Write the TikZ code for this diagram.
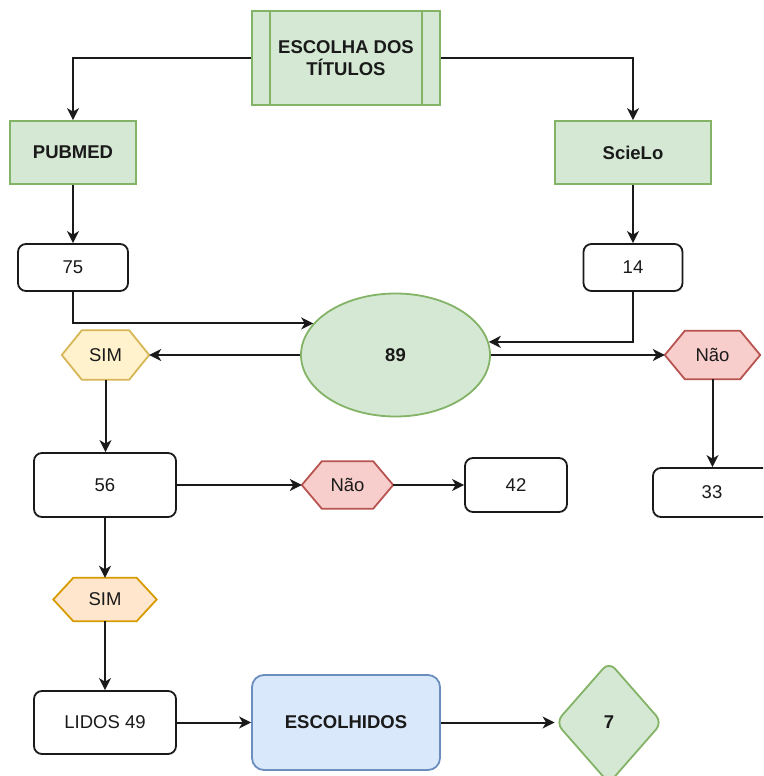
\documentclass[tikz,border=0pt]{standalone}
\usepackage{fontspec}
\setmainfont{Liberation Sans}
\usetikzlibrary{shapes.geometric,arrows.meta,backgrounds,calc}
\definecolor{gfill}{HTML}{D5E8D4}
\definecolor{gline}{HTML}{82B366}
\definecolor{yfill}{HTML}{FFF2CC}
\definecolor{yline}{HTML}{D6B656}
\definecolor{rfill}{HTML}{F8CECC}
\definecolor{rline}{HTML}{B85450}
\definecolor{ofill}{HTML}{FFE6CC}
\definecolor{oline}{HTML}{D79B00}
\definecolor{bfill}{HTML}{DAE8FC}
\definecolor{bline}{HTML}{6C8EBF}
\definecolor{ink}{HTML}{1A1A1A}
\newcommand\hexshape[3]{%
  \draw[#3] (#1.west) -- ([xshift=#2]#1.north west) -- ([xshift=-#2]#1.north east)
    -- (#1.east) -- ([xshift=-#2]#1.south east) -- ([xshift=#2]#1.south west) -- cycle;}
\begin{document}
\begin{tikzpicture}[x=1pt,y=-1pt,
  every node/.style={font=\fontsize{18.5}{22}\selectfont, text=ink, inner sep=0pt, align=center},
  greenbox/.style={draw=gline, fill=gfill, line width=1.8pt, font=\fontsize{18.5}{22}\selectfont\bfseries},
  whitebox/.style={draw=ink, fill=white, line width=1.8pt, rounded corners=8pt},
  conn/.style={draw=ink, line width=2pt, -{Stealth[length=12pt,width=12pt,inset=3.5pt]}}
]
\useasboundingbox (0,0) rectangle (763,776);
\clip (0,0) rectangle (763,776);

\node[greenbox, minimum width=188pt, minimum height=94pt] (top) at (346,58) {ESCOLHA DOS\\TÍTULOS};
\draw[gline, line width=1.8pt] ([xshift=19pt]top.north west) -- ([xshift=19pt]top.south west);
\draw[gline, line width=1.8pt] ([xshift=-19pt]top.north east) -- ([xshift=-19pt]top.south east);

\node[greenbox, minimum width=126pt, minimum height=63pt] (pub) at (73,152.5) {PUBMED};
\node[greenbox, minimum width=156pt, minimum height=63pt] (sci) at (633,152.5) {ScieLo};

\node[whitebox, minimum width=110pt, minimum height=47pt] (n75) at (73,267.5) {75};
\node[whitebox, minimum width=99pt, minimum height=47pt] (n14) at (633,267.5) {14};

\node[ellipse, draw=gline, fill=gfill, line width=1.8pt, minimum width=189pt, minimum height=123pt, font=\fontsize{18.5}{22}\selectfont\bfseries] (e89) at (395.5,355) {89};

\node[minimum width=87pt, minimum height=49pt] (sim1) at (105.5,355) {SIM};
\node[minimum width=95pt, minimum height=48pt] (nao1) at (712.5,355) {Não};

\node[whitebox, minimum width=118pt, minimum height=49pt] (n33) at (712,492.5) {33};
\node[whitebox, minimum width=142pt, minimum height=64pt] (n56) at (105,485) {56};
\node[minimum width=91pt, minimum height=47pt] (nao2) at (347.5,485) {Não};
\node[whitebox, minimum width=102pt, minimum height=54pt] (n42) at (516,485) {42};

\node[minimum width=103pt, minimum height=43pt] (sim2) at (105,599.5) {SIM};

\node[whitebox, minimum width=142pt, minimum height=63pt] (lidos) at (105,722.5) {LIDOS 49};
\node[draw=bline, fill=bfill, line width=1.8pt, rounded corners=12pt, minimum width=188pt, minimum height=95pt, font=\fontsize{18.5}{22}\selectfont\bfseries] (esc) at (346,722.5) {ESCOLHIDOS};
\node[diamond, draw=gline, fill=gfill, line width=1.8pt, rounded corners=9pt, minimum width=107pt, minimum height=122pt, font=\fontsize{18.5}{22}\selectfont\bfseries] (d7) at (609,722.5) {7};

\begin{scope}[on background layer]
  \hexshape{sim1}{20pt}{draw=yline, fill=yfill, line width=1.8pt}
  \hexshape{nao1}{20pt}{draw=rline, fill=rfill, line width=1.8pt}
  \hexshape{nao2}{20pt}{draw=rline, fill=rfill, line width=1.8pt}
  \hexshape{sim2}{20pt}{draw=oline, fill=ofill, line width=1.8pt}
\end{scope}

\draw[conn] (top.west) -| (pub.north);
\draw[conn] (top.east) -| (sci.north);
\draw[conn] (pub.south) -- (n75.north);
\draw[conn] (sci.south) -- (n14.north);
\draw[conn] (n75.south) |- (e89.159);
\draw[conn] (n14.south) |- (e89.8);
\draw[conn] (e89.west) -- (sim1.east);
\draw[conn] (e89.east) -- (nao1.west);
\draw[conn] (nao1.south) -- (nao1.south |- n33.north);
\draw[conn] (sim1.south) -- (sim1.south |- n56.north);
\draw[conn] (n56.east) -- (nao2.west);
\draw[conn] (nao2.east) -- (n42.west);
\draw[conn] (n56.south) -- (sim2.north);
\draw[conn] (sim2.south) -- (lidos.north);
\draw[conn] (lidos.east) -- (esc.west);
\draw[conn] (esc.east) -- (d7.west);
\end{tikzpicture}
\end{document}
